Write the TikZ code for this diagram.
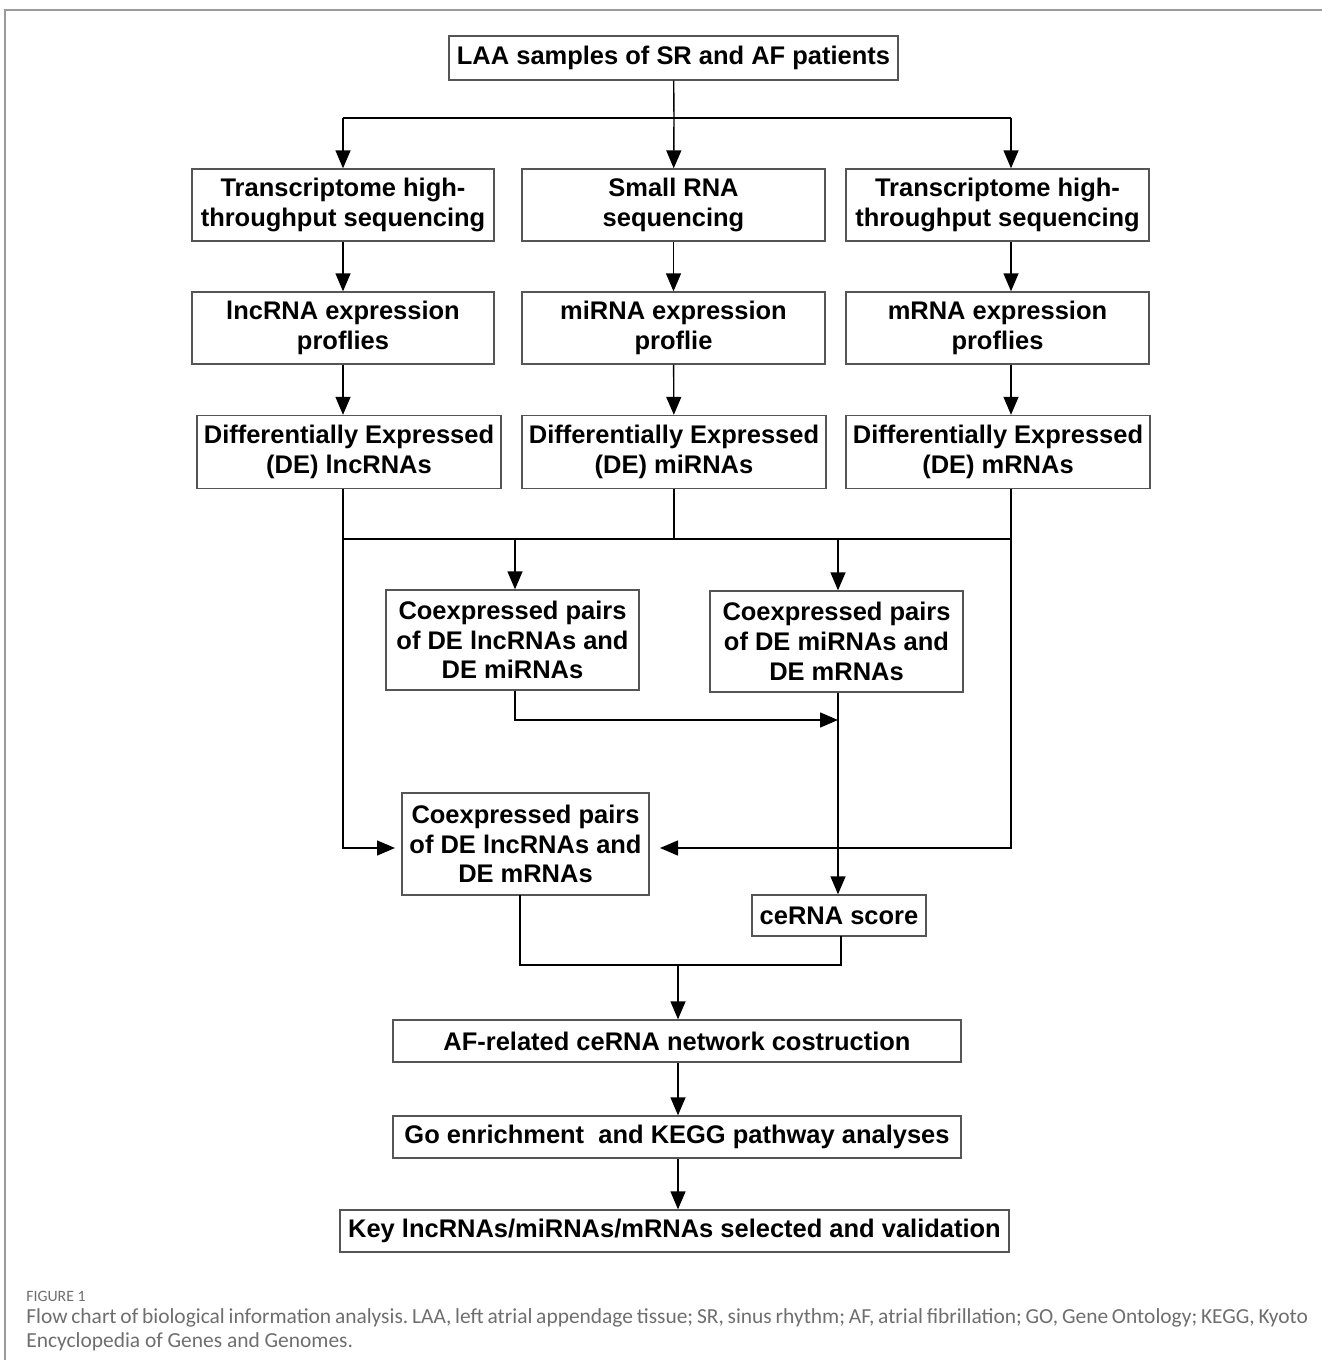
\documentclass[tikz,border=0pt]{standalone}
\usepackage{fontspec}
\setmainfont{Liberation Sans}
\newfontfamily\capfont{Carlito}
\usetikzlibrary{arrows.meta}
\definecolor{framegray}{HTML}{9A9A9A}
\definecolor{boxgray}{HTML}{555555}
\definecolor{capgray}{HTML}{6E6E6E}
\frenchspacing
\begin{document}
\begin{tikzpicture}[x=0.02cm,y=-0.02cm,>={Triangle[length=0.36cm,width=0.3cm]},
stepbox/.style={rectangle,draw=boxgray,line width=0.8pt,inner sep=1pt,align=center,
  font=\fontsize{14.5}{17}\selectfont\bfseries},
]
\useasboundingbox (0,0) rectangle (1322,1360);
\draw[framegray,line width=0.6pt] (1322,10)--(5,10)--(5,1360);

\node[stepbox,minimum width=8.98cm,minimum height=0.88cm](samples) at (673.5,58){LAA samples of SR and AF patients};

\node[stepbox,minimum width=6.04cm,minimum height=1.44cm](seq-lnc) at (343,205){Transcriptome high-\\throughput sequencing};
\node[stepbox,minimum width=6.06cm,minimum height=1.44cm](seq-mi) at (673.5,205){Small RNA\\sequencing};
\node[stepbox,minimum width=6.06cm,minimum height=1.44cm](seq-m) at (997.5,205){Transcriptome high-\\throughput sequencing};

\node[stepbox,minimum width=6.04cm,minimum height=1.44cm](prof-lnc) at (343,328){lncRNA expression\\proflies};
\node[stepbox,minimum width=6.06cm,minimum height=1.44cm](prof-mi) at (673.5,328){miRNA expression\\proflie};
\node[stepbox,minimum width=6.06cm,minimum height=1.44cm](prof-m) at (997.5,328){mRNA expression\\proflies};

\node[stepbox,minimum width=6.08cm,minimum height=1.46cm](de-lnc) at (349,452){Differentially Expressed\\(DE) lncRNAs};
\node[stepbox,minimum width=6.08cm,minimum height=1.46cm](de-mi) at (674,452){Differentially Expressed\\(DE) miRNAs};
\node[stepbox,minimum width=6.08cm,minimum height=1.46cm](de-m) at (998,452){Differentially Expressed\\(DE) mRNAs};

\node[stepbox,minimum width=5.06cm,minimum height=2cm](pair-lnc-mi) at (512.5,640){Coexpressed pairs\\of DE lncRNAs and\\DE miRNAs};
\node[stepbox,minimum width=5.06cm,minimum height=2.02cm](pair-mi-m) at (836.5,641.5){Coexpressed pairs\\of DE miRNAs and\\DE mRNAs};
\node[stepbox,minimum width=4.94cm,minimum height=2.04cm](pair-lnc-m) at (525.5,844){Coexpressed pairs\\of DE lncRNAs and\\DE mRNAs};
\node[stepbox,minimum width=3.48cm,minimum height=0.82cm](score) at (839,915.5){ceRNA score};

\node[stepbox,minimum width=11.36cm,minimum height=0.84cm](network) at (677,1041){AF-related ceRNA network costruction};
\node[stepbox,minimum width=11.36cm,minimum height=0.84cm](enrich) at (677,1137){Go enrichment\ \ and KEGG pathway analyses};
\node[stepbox,minimum width=13.38cm,minimum height=0.84cm](key) at (674.5,1231){Key lncRNAs/miRNAs/mRNAs selected and validation};

\coordinate(split) at (674,118);
\coordinate(merge) at (674,539);
\coordinate(join) at (678,965);
\coordinate(meet) at (838,720);

\begin{scope}[line width=0.8pt]
\draw (samples)--(split);
\draw (343,118)--(1011,118);
\draw (343,489)--(343,539)--(1011,539)--(1011,489);
\draw (merge)--(de-mi);
\draw (520,895)--(520,965)--(841,965)--(841,936);
\end{scope}

\begin{scope}[->,line width=0.8pt]
\draw (343,118)--(seq-lnc.north-|343,0);
\draw (split)--(seq-mi);
\draw (1011,118)--(seq-m.north-|1011,0);
\draw (seq-lnc)--(prof-lnc);
\draw (seq-mi)--(prof-mi);
\draw (seq-m.south-|1011,0)--(prof-m.north-|1011,0);
\draw (prof-lnc)--(de-lnc.north-|343,0);
\draw (prof-mi)--(de-mi);
\draw (prof-m.south-|1011,0)--(de-m.north-|1011,0);
\draw (515,539)--(pair-lnc-mi.north-|515,0);
\draw (838,539)--(pair-mi-m.north-|838,0);
\draw (pair-lnc-mi.south-|515,0)|-(meet);
\draw (pair-mi-m.south-|838,0)--(score.north-|838,0);
\draw (343,539)|-(395,848);
\draw (1011,539)|-(660,848);
\draw (join)--(network.north-|join);
\draw (network.south-|join)--(enrich.north-|join);
\draw (enrich.south-|join)--(key.north-|join);
\end{scope}

\node[anchor=base west,inner sep=0pt,text=capgray,font=\capfont\fontsize{9}{10}\selectfont](fig) at (26,1301){FIGURE 1};
\node[anchor=north west,inner sep=0pt,text=capgray,text width=25.64cm,align=justify,
  font=\capfont\fontsize{12.2}{13.7}\selectfont](caption) at (26,1308){Flow chart of biological information analysis. LAA, left atrial appendage tissue; SR, sinus rhythm; AF, atrial fibrillation; GO, Gene Ontology; KEGG, Kyoto\linebreak Encyclopedia of Genes and Genomes.};
\end{tikzpicture}
\end{document}
